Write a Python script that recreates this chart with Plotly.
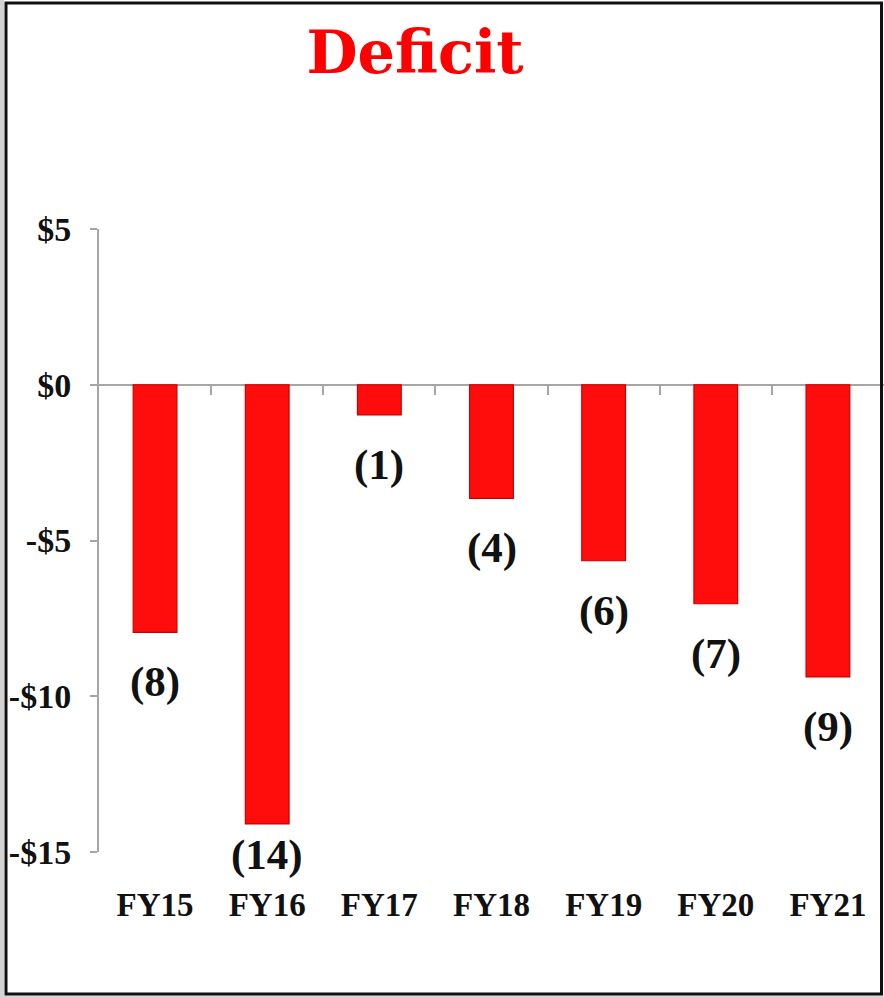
import plotly.graph_objects as go

categories = ["FY15", "FY16", "FY17", "FY18", "FY19", "FY20", "FY21"]
deficit = [-7.95, -14.1, -0.97, -3.65, -5.65, -7.03, -9.38]
labels = ["(8)", "(14)", "(1)", "(4)", "(6)", "(7)", "(9)"]
y_tickvals = [5, 0, -5, -10, -15]
y_ticktext = ["$5", "$0", "-$5", "-$10", "-$15"]

W, H = 884, 997
L, R, T, B = 99, 0, 229, 145
pw, ph = W - L - R, H - T - B

def px_x(p):
    return (p - L) / pw

def px_y(p):
    return 1 - (p - T) / ph

serif = "Liberation Serif"
axis_gray = "#a6a6a6"

fig = go.Figure()
fig.add_trace(go.Bar(
    x=categories, y=deficit, width=0.39,
    marker=dict(color="#ff0c0c", line=dict(color="#c80000", width=1.2)),
    hoverinfo="x+y",
))

annotations = []
for c, v, t in zip(categories, deficit, labels):
    shift = -5 if t == "(14)" else -24
    annotations.append(dict(
        x=c, y=v, xref="x", yref="y", text=t, showarrow=False,
        yanchor="top", yshift=shift,
        font=dict(family=serif, size=43, color="#111111", weight="bold"),
    ))

fig.update_layout(
    width=W, height=H,
    margin=dict(l=L, r=R, t=T, b=B),
    paper_bgcolor="white", plot_bgcolor="white",
    showlegend=False,
    title=dict(
        text="Deficit", x=px_x(415), xref="paper", xanchor="center",
        y=1 - 52 / H, yref="container", yanchor="middle",
        font=dict(family="DejaVu Serif", size=59, color="#ff0000", weight="bold"),
    ),
    annotations=annotations,
    xaxis=dict(
        range=[-0.5, 6.5], showgrid=False, showline=False, ticks="",
        tickfont=dict(family=serif, size=33, color="#111111", weight="bold"),
        ticklabelstandoff=30, fixedrange=True,
    ),
    xaxis2=dict(
        overlaying="x", anchor="free", position=0.75, range=[-0.5, 6.5],
        tickmode="array", tickvals=[0.5, 1.5, 2.5, 3.5, 4.5, 5.5],
        ticks="outside", ticklen=9, tickwidth=2, tickcolor=axis_gray,
        showticklabels=False, showline=False, showgrid=False, zeroline=False,
        side="bottom", fixedrange=True,
    ),
    yaxis=dict(
        range=[-15, 5], tickmode="array", tickvals=y_tickvals, ticktext=y_ticktext,
        showgrid=False, showline=True, linecolor=axis_gray, linewidth=2,
        ticks="outside", ticklen=7, tickwidth=2, tickcolor=axis_gray,
        zeroline=True, zerolinecolor=axis_gray, zerolinewidth=2,
        tickfont=dict(family=serif, size=34, color="#111111", weight="bold"),
        ticklabelstandoff=12, fixedrange=True,
    ),
    shapes=[
        dict(type="rect", xref="paper", yref="paper",
             x0=px_x(0), x1=px_x(4), y0=px_y(H), y1=px_y(0),
             fillcolor="#d4d4d4", line=dict(width=0), layer="above"),
        dict(type="rect", xref="paper", yref="paper",
             x0=px_x(0), x1=px_x(W), y0=px_y(H), y1=px_y(995.5),
             fillcolor="#d4d4d4", line=dict(width=0), layer="above"),
        dict(type="rect", xref="paper", yref="paper",
             x0=px_x(6), x1=px_x(881.5), y0=px_y(994), y1=px_y(3),
             line=dict(color="#111111", width=3), layer="above"),
    ],
)

fig.add_trace(go.Scatter(x=[None], y=[None], xaxis="x2", showlegend=False, hoverinfo="skip"))

fig.write_html(
    "out.html",
    config={"displayModeBar": False},
    post_script="document.body.style.margin='0';document.body.style.overflow='hidden';",
)
